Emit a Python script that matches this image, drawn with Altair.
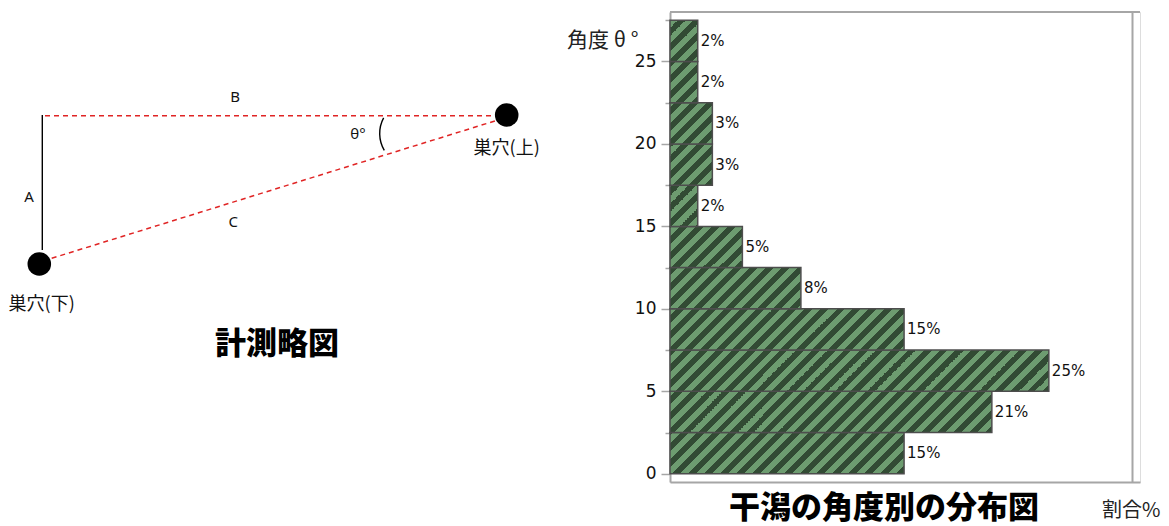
import math
import altair as alt

# ------------------------------------------------------------------
# Histogram data (angle classes of 2.5 degrees, share in %)
# ------------------------------------------------------------------
bin_start = [0, 2.5, 5, 7.5, 10, 12.5, 15, 17.5, 20, 22.5, 25]
bin_end = [2.5, 5, 7.5, 10, 12.5, 15, 17.5, 20, 22.5, 25, 27.5]
share = [15.2, 20.9, 24.6, 15.2, 8.5, 4.7, 1.8, 2.75, 2.75, 1.8, 1.8]
share_label = ["15%", "21%", "25%", "15%", "8%", "5%", "2%", "3%", "3%", "2%", "2%"]
y_tick_values = [0, 2.5, 5, 7.5, 10, 12.5, 15, 17.5, 20, 22.5, 25, 27.5]

# ------------------------------------------------------------------
# Measurement sketch (units: px-like, origin at the lower burrow, y up)
# ------------------------------------------------------------------
nest_x = [0, 467.4]
nest_y = [0, 149]
solid_seg = ["A", "A"]
solid_x = [3, 3]
solid_y = [14, 149]
dash_seg = ["B", "B", "C", "C"]
dash_x = [5.7, 453.7, 12.4, 456.4]
dash_y = [148.3, 148.3, 5.7, 143.3]
letter_text = ["A", "B", "C", "θ°"]
letter_x = [-10.3, 195.7, 194, 318.7]
letter_y = [66.7, 167.3, 42.3, 129.7]
nest_label_text = ["巣穴(下)", "巣穴(上)"]
nest_label_x = [2.4, 467.4]
nest_label_y = [-41, 115]
arc_x = [373.3]
arc_y = [130.5]
sketch_title_text = ["計測略図"]
sketch_title_x = [237.7]
sketch_title_y = [-81]

# ------------------------------------------------------------------
W, H = 470, 470
X_MAX = 30.52
Y_MIN, Y_MAX = -0.5, 28
PX_X = W / X_MAX
PX_Y = H / (Y_MAX - Y_MIN)

DARK = "#324b34"
LIGHT = "#6d9c70"
PERIOD = 16.0
LIGHT_FRAC = 0.5
GRAY = "#a6a6a6"
JP = "Noto Sans CJK JP"


def stripe_gradient(x0, y0, w, h):
    """Hard-stop linear gradient giving 45° stripes anchored to the plot."""
    s0 = x0 + y0
    span = w + h
    k = span / (w * w + h * h)
    bounds = []
    p = math.floor(s0 / PERIOD) - 1
    while p * PERIOD < s0 + span + PERIOD:
        bounds.append((p * PERIOD, DARK))
        bounds.append((p * PERIOD + PERIOD * (1 - LIGHT_FRAC), LIGHT))
        p += 1
    color = DARK
    for b, c in bounds:
        if b <= s0:
            color = c
    stops = [{"offset": 0, "color": color}]
    for b, c in bounds:
        if s0 < b < s0 + span:
            t = (b - s0) / span
            stops.append({"offset": t, "color": color})
            stops.append({"offset": t, "color": c})
            color = c
    stops.append({"offset": 1, "color": color})
    return {"gradient": "linear", "x1": 0, "y1": 0,
            "x2": k * w, "y2": k * h, "stops": stops}


bar_rows = []
for s, e, v, lab in zip(bin_start, bin_end, share, share_label):
    g = stripe_gradient(0, (Y_MAX - e) * PX_Y, v * PX_X, (e - s) * PX_Y)
    bar_rows.append({"start": s, "end": e, "share": v, "label": lab, "grad": g})

bar_data = alt.Data(values=bar_rows)

x_scale = alt.Scale(domain=[0, X_MAX], nice=False, zero=False)
y_scale = alt.Scale(domain=[Y_MIN, Y_MAX], nice=False, zero=False)

x_axis = alt.Axis(
    values=[30], labels=False, ticks=False, grid=True,
    gridColor=GRAY, gridWidth=2, domainColor=GRAY, domainWidth=2,
    title="割合%", titleX=490, titleY=34, titleAlign="right",
    titleBaseline="alphabetic", titleFont=JP, titleFontSize=20,
    titleFontWeight="normal", titleColor="#222222",
)
y_axis = alt.Axis(
    values=y_tick_values,
    labelExpr="datum.value % 5 === 0 ? datum.label : ''",
    tickSize={"condition": {"test": "datum.value % 5 === 0", "value": 9}, "value": 5},
    tickColor=GRAY, tickWidth=1.5, domainColor=GRAY, domainWidth=2,
    grid=False, labelFont="DejaVu Sans", labelFontSize=17, labelColor="#111111",
    labelPadding=5,
    title="角度 θ °", titleAngle=0, titleAlign="right", titleBaseline="middle",
    titleX=-32, titleY=28, titleFont=JP, titleFontSize=21,
    titleFontWeight="normal", titleColor="#222222",
)

frame_top = alt.Chart(alt.Data(values=[{}])).mark_rule(
    color=GRAY, strokeWidth=2
).encode(y=alt.Y(datum=Y_MAX, scale=y_scale, axis=y_axis))

bars = alt.Chart(bar_data).mark_rect(stroke="#4d4d4d", strokeWidth=1.5).encode(
    x=alt.X("share:Q", scale=x_scale, axis=x_axis),
    x2=alt.datum(0),
    y=alt.Y("start:Q", scale=y_scale, axis=y_axis),
    y2="end:Q",
    fill=alt.Fill("grad:N", scale=None),
)

bar_labels = alt.Chart(bar_data).transform_calculate(
    mid="(datum.start + datum.end) / 2"
).mark_text(align="left", baseline="middle", dx=3, font="DejaVu Sans",
            fontSize=15, color="#111111").encode(
    x=alt.X("share:Q", scale=x_scale, axis=x_axis),
    y=alt.Y("mid:Q", scale=y_scale, axis=y_axis),
    text="label:N",
)

hist = alt.layer(frame_top, bars, bar_labels)

# ---- sketch layers (own independent scales, drawn left of the plot) ----
sx = alt.Scale(domain=[630.7, 630.7 + W], nice=False, zero=False)
sy = alt.Scale(domain=[-218, -218 + H], nice=False, zero=False)


def X(f):
    return alt.X(f, scale=sx, axis=None)


def Y(f):
    return alt.Y(f, scale=sy, axis=None)


solid_data = alt.Data(values=[{"seg": a, "x": b, "y": c, "o": i}
                              for i, (a, b, c) in enumerate(zip(solid_seg, solid_x, solid_y))])
dash_data = alt.Data(values=[{"seg": a, "x": b, "y": c, "o": i}
                             for i, (a, b, c) in enumerate(zip(dash_seg, dash_x, dash_y))])

line_a = alt.Chart(solid_data).mark_line(color="#000000", strokeWidth=1.4).encode(
    x=X("x:Q"), y=Y("y:Q"), detail="seg:N", order="o:Q")
dashed = alt.Chart(dash_data).mark_line(
    color="#e02424", strokeWidth=1.5, strokeDash=[5, 4]).encode(
    x=X("x:Q"), y=Y("y:Q"), detail="seg:N", order="o:Q")

arc = alt.Chart(alt.Data(values=[{"x": a, "y": b} for a, b in zip(arc_x, arc_y)])).mark_arc(
    theta=4.177, theta2=5.206, radius=33.6, radius2=32.2, color="#000000"
).encode(x=X("x:Q"), y=Y("y:Q"))

nests = alt.Chart(alt.Data(values=[{"x": a, "y": b} for a, b in zip(nest_x, nest_y)])).mark_circle(
    size=556, color="#000000", opacity=1).encode(x=X("x:Q"), y=Y("y:Q"))

letters = alt.Chart(alt.Data(values=[{"t": t, "x": a, "y": b}
                                     for t, a, b in zip(letter_text, letter_x, letter_y)])).mark_text(
    font="Noto Sans", fontSize=15, color="#111111", align="center", baseline="middle"
).encode(x=X("x:Q"), y=Y("y:Q"), text="t:N")

nest_labels = alt.Chart(alt.Data(values=[{"t": t, "x": a, "y": b}
                                         for t, a, b in zip(nest_label_text, nest_label_x, nest_label_y)])).mark_text(
    font=JP, fontSize=18, color="#111111", align="center", baseline="middle"
).encode(x=X("x:Q"), y=Y("y:Q"), text="t:N")

sketch_title = alt.Chart(alt.Data(values=[{"t": t, "x": a, "y": b}
                                          for t, a, b in zip(sketch_title_text, sketch_title_x, sketch_title_y)])).mark_text(
    font=JP, fontSize=31, fontWeight=900, color="#000000", align="center", baseline="middle"
).encode(x=X("x:Q"), y=Y("y:Q"), text="t:N")

sketch = alt.layer(line_a, dashed, arc, nests, letters, nest_labels, sketch_title)

chart = alt.layer(sketch, hist).resolve_scale(
    x="independent", y="independent"
).properties(
    width=W, height=H,
    autosize="none",
    padding={"left": 662, "top": 4, "right": 21, "bottom": 44},
    title=alt.TitleParams(
        "干潟の角度別の分布図", orient="bottom", anchor="middle", frame="group",
        font=JP, fontSize=31, fontWeight=900, color="#000000",
        offset=0, dx=-21, dy=-26,
    ),
).configure_view(stroke=None).configure(background="white")

chart.save("out.html", embed_options={"renderer": "svg", "actions": False})
